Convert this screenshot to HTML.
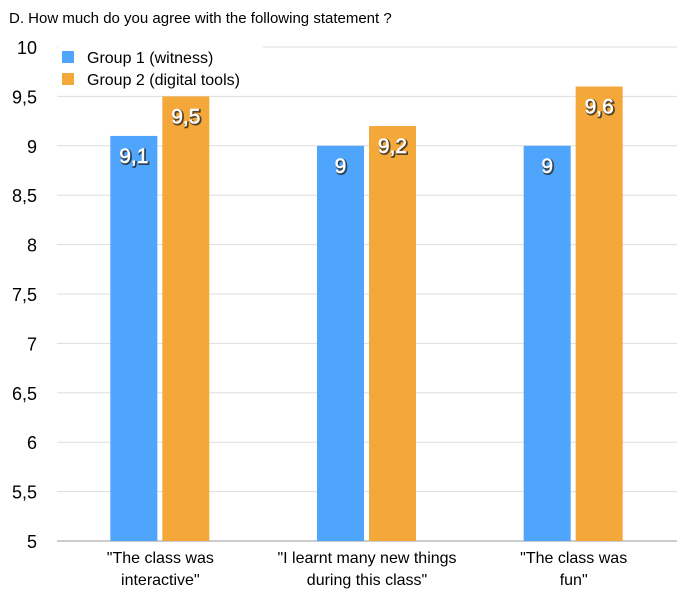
<!DOCTYPE html>
<html><head><meta charset="utf-8"><style>
body{margin:0;background:#fff;font-family:"Liberation Sans",sans-serif}
svg text{font-family:"Liberation Sans",sans-serif}
</style></head><body>
<svg width="686" height="595">
<text x="9" y="23" font-size="15" fill="#000">D. How much do you agree with the following statement ?</text>
<g id="grid"></g><g id="bars"></g><g id="labels"></g>
<g>
<rect x="58" y="46" width="205" height="48" fill="#fff"/>
<rect x="62" y="51" width="12" height="12" fill="#4ea5fb"/>
<text x="87" y="63" font-size="16">Group 1 (witness)</text>
<rect x="62" y="73" width="12" height="12" fill="#f5a83a"/>
<text x="87" y="85" font-size="16">Group 2 (digital tools)</text>
</g>
</svg>
<script>
const categories=[["\"The class was","interactive\""],["\"I learnt many new things","during this class\""],["\"The class was","fun\""]];
const group1=[9.1,9,9];
const group2=[9.5,9.2,9.6];
const ticks=[5,5.5,6,6.5,7,7.5,8,8.5,9,9.5,10];
const tickLabels=["5","5,5","6","6,5","7","7,5","8","8,5","9","9,5","10"];
const NS="http://www.w3.org/2000/svg";
const x0=57,x1=677,yB=541,yT=47,ymin=5,ymax=10;
const y=v=>yB-(v-ymin)/(ymax-ymin)*(yB-yT);
const bw=(x1-x0)/categories.length;
function mk(t,a,p){const e=document.createElementNS(NS,t);for(const k in a)e.setAttribute(k,a[k]);p.appendChild(e);return e;}
const grid=document.getElementById('grid'),bars=document.getElementById('bars'),labs=document.getElementById('labels');
ticks.forEach((t,i)=>{
 const l=mk('line',{x1:x0,x2:x1,y1:y(t),y2:y(t),stroke:i==0?'#999':'#ddd','stroke-width':1},grid);
 
 
 const tx=mk('text',{x:37,y:y(t)+7,'font-size':18,'text-anchor':'end'},grid);
 tx.textContent=tickLabels[i];
 
 
});
const fmt=v=>String(v).replace('.',',');
categories.forEach((c,i)=>{
 const cx=x0+bw*(i+0.5);
 [[group1[i],cx-50,'#4ea5fb'],[group2[i],cx+2,'#f5a83a']].forEach(([v,bx,col],j)=>{
  const r=mk('rect',{x:bx,y:y(v),width:47,height:yB-y(v),fill:col},bars);
  
  
  const sh=mk('text',{x:bx+24.5,y:y(v)+28,'font-size':21,'text-anchor':'middle',fill:'#222',stroke:'#222','stroke-width':2,opacity:0.75},labs);
  sh.textContent=fmt(v);
  
  
  const t=mk('text',{x:bx+23.5,y:y(v)+27,'font-size':21,'text-anchor':'middle',fill:'#fff',stroke:'#fff','stroke-width':0.5},labs);
  t.textContent=fmt(v);
  
  
 });
 c.forEach((ln,k)=>{
  const t=mk('text',{x:cx,y:563+k*22,'font-size':16,'text-anchor':'middle'},labs);
  t.textContent=ln;
  
  
 });
});
</script>
</body></html>
